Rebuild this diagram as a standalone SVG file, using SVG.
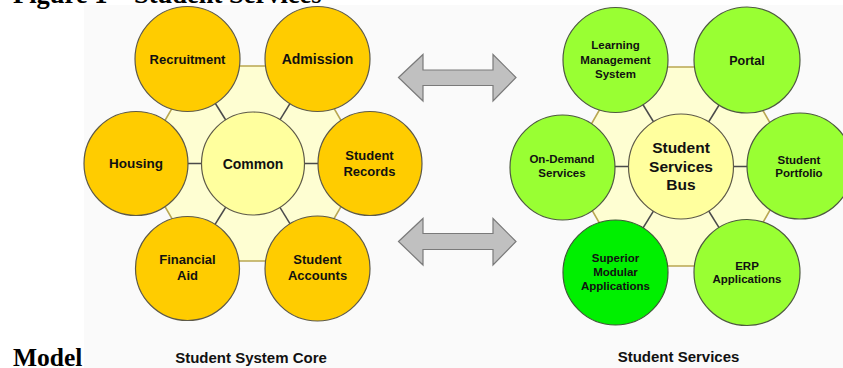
<svg xmlns="http://www.w3.org/2000/svg" width="843" height="368" viewBox="0 0 843 368">
  <defs>
    <style>
      .serif { font-family: "Liberation Serif", "Times New Roman", serif; font-weight: bold; fill: #000; }
      .lbl { font-family: "Liberation Sans", Arial, sans-serif; font-weight: bold; fill: #111; text-anchor: middle; }
      .hex { fill: #FEFED2; stroke: #B9A752; stroke-width: 1.6; }
      .spoke { stroke: #4A4A4A; stroke-width: 1.5; }
      .core { fill: #FFCC00; stroke: #5E5A48; stroke-width: 1.2; }
      .svc { fill: #99FF33; stroke: #4E5A40; stroke-width: 1.2; }
      .svc-hi { fill: #00F000; stroke: #3E5A36; stroke-width: 1.2; }
      .hub { fill: #FFFF9E; stroke: #5E5A48; stroke-width: 1.2; }
      .arrow { fill: #C0C0C0; stroke: #7A7A7A; stroke-width: 1.2; stroke-linejoin: miter; }
    </style>
  </defs>

  <rect x="0" y="0" width="843" height="368" fill="#FFFFFF"/>
  <!-- light canvas behind the two clusters -->
  <rect x="84" y="5" width="759" height="363" fill="#FAFAFA"/>

  <!-- figure caption, split across top and bottom -->
  <text class="serif" x="13" y="3" font-size="26.5">Figure 1 – Student Services</text>
  <text class="serif" x="13" y="366" font-size="25.5">Model</text>

  <!-- hexagonal backplates -->
  <g id="plate-core">
    <polygon class="hex" points="196.5,66 309.5,66 366,163.5 309.5,261 196.5,261 140,163.5"/>
  </g>
  <g id="plate-services">
    <polygon class="hex" points="624,67 738,67 795,166.5 738,266 624,266 567,166.5"/>
  </g>

  <!-- connectors: spokes from each hub to its satellites, and the exchange arrows -->
  <g id="connectors">
    <line class="spoke" x1="253" y1="163.5" x2="187.5" y2="59"/>
    <line class="spoke" x1="253" y1="163.5" x2="317.5" y2="59"/>
    <line class="spoke" x1="253" y1="163.5" x2="136" y2="163.5"/>
    <line class="spoke" x1="253" y1="163.5" x2="370" y2="163.5"/>
    <line class="spoke" x1="253" y1="163.5" x2="187.5" y2="268.5"/>
    <line class="spoke" x1="253" y1="163.5" x2="317.5" y2="268.5"/>

    <line class="spoke" x1="681" y1="166.5" x2="615.5" y2="60"/>
    <line class="spoke" x1="681" y1="166.5" x2="747" y2="60"/>
    <line class="spoke" x1="681" y1="166.5" x2="562.5" y2="166.5"/>
    <line class="spoke" x1="681" y1="166.5" x2="800" y2="166.5"/>
    <line class="spoke" x1="681" y1="166.5" x2="615.5" y2="272.5"/>
    <line class="spoke" x1="681" y1="166.5" x2="747" y2="272.5"/>

    <polygon class="arrow" points="398.5,77.5 423,54.5 423,70 493,70 493,54.5 516,77.5 493,101 493,85.5 423,85.5 423,101"/>
    <polygon class="arrow" points="398.5,241.5 423,218.5 423,233.5 493,233.5 493,218.5 516,241.5 493,265 493,249.5 423,249.5 423,265"/>
  </g>

  <!-- Student System Core -->
  <g id="recruitment">
    <circle class="core" cx="187.5" cy="59" r="52.5"/>
    <text class="lbl" x="187.5" y="63.5" font-size="13">Recruitment</text>
  </g>
  <g id="admission">
    <circle class="core" cx="317.5" cy="59" r="52.5"/>
    <text class="lbl" x="317.5" y="64" font-size="14">Admission</text>
  </g>
  <g id="housing">
    <circle class="core" cx="136" cy="163.5" r="52"/>
    <text class="lbl" x="136" y="168" font-size="13.5">Housing</text>
  </g>
  <g id="common">
    <circle class="hub" cx="253" cy="163.5" r="51.5"/>
    <text class="lbl" x="253" y="168.5" font-size="14">Common</text>
  </g>
  <g id="student-records">
    <circle class="core" cx="370" cy="163.5" r="52"/>
    <text class="lbl" x="369.5" y="159.5" font-size="13">Student</text>
    <text class="lbl" x="369.5" y="175.5" font-size="13">Records</text>
  </g>
  <g id="financial-aid">
    <circle class="core" cx="187.5" cy="268.5" r="52"/>
    <text class="lbl" x="187.5" y="264" font-size="13">Financial</text>
    <text class="lbl" x="187.5" y="279.5" font-size="13">Aid</text>
  </g>
  <g id="student-accounts">
    <circle class="core" cx="317.5" cy="268.5" r="52.5"/>
    <text class="lbl" x="317.5" y="264" font-size="13">Student</text>
    <text class="lbl" x="317.5" y="279.5" font-size="13">Accounts</text>
  </g>

  <!-- Student Services -->
  <g id="lms">
    <circle class="svc" cx="615.5" cy="60" r="52.5"/>
    <text class="lbl" x="615.5" y="49" font-size="11.5">Learning</text>
    <text class="lbl" x="615.5" y="64" font-size="11.5">Management</text>
    <text class="lbl" x="615.5" y="78" font-size="11.5">System</text>
  </g>
  <g id="portal">
    <circle class="svc" cx="747" cy="60" r="53"/>
    <text class="lbl" x="747" y="65" font-size="12.5">Portal</text>
  </g>
  <g id="on-demand">
    <circle class="svc" cx="562.5" cy="167.5" r="52.5"/>
    <text class="lbl" x="562" y="162.5" font-size="11.5">On-Demand</text>
    <text class="lbl" x="562" y="177" font-size="11.5">Services</text>
  </g>
  <g id="bus">
    <circle class="hub" cx="681" cy="166.5" r="52.5"/>
    <text class="lbl" x="681" y="152.5" font-size="15.5">Student</text>
    <text class="lbl" x="681" y="171.5" font-size="15.5">Services</text>
    <text class="lbl" x="681" y="190" font-size="15.5">Bus</text>
  </g>
  <g id="portfolio">
    <circle class="svc" cx="800" cy="166" r="53"/>
    <text class="lbl" x="799" y="163.5" font-size="11.5">Student</text>
    <text class="lbl" x="799" y="177" font-size="11.5">Portfolio</text>
  </g>
  <g id="superior-modular">
    <circle class="svc-hi" cx="615.5" cy="272.5" r="52.5"/>
    <text class="lbl" x="615.5" y="262" font-size="11.5">Superior</text>
    <text class="lbl" x="615.5" y="276" font-size="11.5">Modular</text>
    <text class="lbl" x="615.5" y="289.5" font-size="11.5">Applications</text>
  </g>
  <g id="erp">
    <circle class="svc" cx="747" cy="272.5" r="53"/>
    <text class="lbl" x="747" y="270" font-size="11.5">ERP</text>
    <text class="lbl" x="747" y="282.5" font-size="11.5">Applications</text>
  </g>

  <!-- cluster captions -->
  <text class="lbl" x="251" y="362.5" font-size="15">Student System Core</text>
  <text class="lbl" x="678.5" y="362" font-size="15">Student Services</text>
</svg>
